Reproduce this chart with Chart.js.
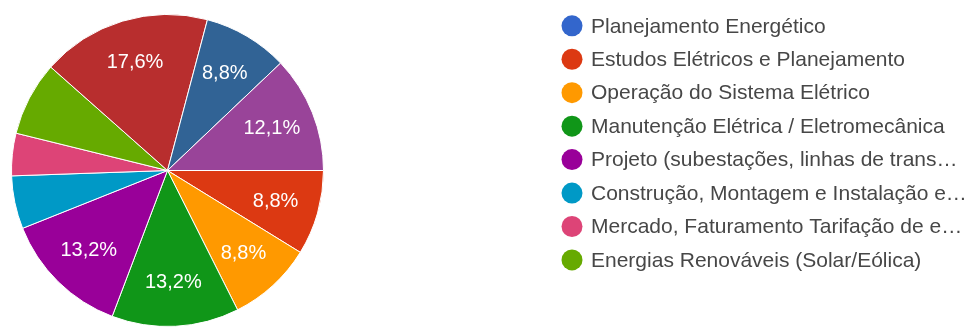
<!DOCTYPE html>
<html>
<head>
<meta charset="utf-8">
<script src="https://cdn.jsdelivr.net/npm/chart.js@4"></script>
<style>
  html, body { margin: 0; padding: 0; background: #ffffff; }
  #wrap { width: 971px; height: 327px; position: relative; }
</style>
</head>
<body>
<div id="wrap"><canvas id="c" width="971" height="327"></canvas></div>
<script>
// Categories in data order (Google Charts order; first category has 0 responses)
const categories = [
  "Planejamento Energético",
  "Estudos Elétricos e Planejamento",
  "Operação do Sistema Elétrico",
  "Manutenção Elétrica / Eletromecânica",
  "Projeto (subestações, linhas de trans…",
  "Construção, Montagem e Instalação e…",
  "Mercado, Faturamento Tarifação de e…",
  "Energias Renováveis (Solar/Eólica)",
  "Outros (1)",
  "Outros (2)",
  "Outros (3)"
];
// Response counts (total 91)
const counts = [0, 8, 8, 12, 12, 5, 4, 7, 16, 8, 11];
const colors = ["#3366cc", "#dc3912", "#ff9900", "#109618", "#990099", "#0099c6",
                "#dd4477", "#66aa00", "#b82e2e", "#316395", "#994499"];
const legendVisibleCount = 8;
const labelThreshold = 0.08;

const sliceLabels = {
  id: 'sliceLabels',
  afterDatasetsDraw(chart) {
    const ctx = chart.ctx;
    const meta = chart.getDatasetMeta(0);
    const data = chart.data.datasets[0].data;
    const total = data.reduce((a, b) => a + b, 0);
    ctx.save();
    ctx.font = '20px "Liberation Sans", Arial, sans-serif';
    ctx.fillStyle = '#ffffff';
    ctx.textAlign = 'center';
    ctx.textBaseline = 'middle';
    meta.data.forEach((arc, i) => {
      const frac = data[i] / total;
      if (frac < labelThreshold) return;
      const p = arc.getProps(['x', 'y', 'startAngle', 'endAngle', 'outerRadius'], true);
      const mid = (p.startAngle + p.endAngle) / 2;
      const r = p.outerRadius * 0.72;
      const txt = (frac * 100).toFixed(1).replace('.', ',') + '%';
      ctx.fillText(txt, p.x + Math.cos(mid) * r, p.y + Math.sin(mid) * r);
    });
    ctx.restore();
  }
};

const sideLegend = {
  id: 'sideLegend',
  afterDraw(chart) {
    const ctx = chart.ctx;
    const labels = chart.data.labels;
    const bg = chart.data.datasets[0].backgroundColor;
    ctx.save();
    ctx.font = '21px "Liberation Sans", Arial, sans-serif';
    ctx.textBaseline = 'middle';
    ctx.textAlign = 'left';
    for (let i = 0; i < legendVisibleCount; i++) {
      const y = 25.8 + i * 33.45;
      ctx.beginPath();
      ctx.fillStyle = bg[i];
      ctx.arc(572, y, 10.5, 0, Math.PI * 2);
      ctx.fill();
      ctx.fillStyle = '#474747';
      ctx.fillText(labels[i], 591, y + 1);
    }
    ctx.restore();
  }
};

new Chart(document.getElementById('c'), {
  type: 'pie',
  data: {
    labels: categories,
    datasets: [{
      data: counts,
      backgroundColor: colors,
      borderColor: '#ffffff',
      borderWidth: 1
    }]
  },
  options: {
    responsive: false,
    animation: false,
    rotation: 90,
    layout: { padding: { left: 11, right: 647, top: 14, bottom: 0 } },
    plugins: {
      legend: { display: false },
      tooltip: { enabled: false }
    }
  },
  plugins: [sliceLabels, sideLegend]
});
</script>
</body>
</html>
